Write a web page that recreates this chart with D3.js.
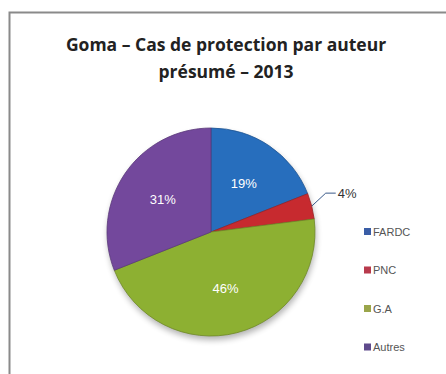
<!DOCTYPE html>
<html>
<head>
<meta charset="utf-8">
<script src="https://cdn.jsdelivr.net/npm/d3@7"></script>
<style>
  html, body { margin: 0; padding: 0; background: #fff; }
  svg { display: block; }
</style>
</head>
<body>
<svg id="chart" width="446" height="374"></svg>
<script>
// Chart data
const categories = ["FARDC", "PNC", "G.A", "Autres"];
const values = [19, 4, 46, 31];
const labels = ["19%", "4%", "46%", "31%"];
const colors = ["#2f84e2", "#ee3238", "#a8d23c", "#8a56bb"];
const legendColors = ["#3a5da6", "#b83a4c", "#9aa54a", "#5f4a8c"];
const titleLines = ["Goma – Cas de protection par auteur", "présumé – 2013"];

const svg = d3.select("#chart");
const W = 446, H = 374;

// Frame
svg.append("rect").attr("x", 0).attr("y", 0).attr("width", W).attr("height", H).attr("fill", "#fff");
svg.append("path")
  .attr("d", `M9.5,${H} V12.5 H${W}`)
  .attr("fill", "none").attr("stroke", "#8a8a8a").attr("stroke-width", 2);

// Title
const title = svg.append("text")
  .attr("text-anchor", "middle")
  .attr("font-family", "'Open Sans', 'Liberation Sans', sans-serif")
  .attr("font-weight", 700)
  .attr("font-size", 17.5)
  .attr("fill", "#222");
titleLines.forEach((t, i) => {
  title.append("tspan").attr("x", 226).attr("y", 51 + i * 27).text(t);
});

// Pie
const cx = 211, cy = 232, r = 104;
const pie = d3.pie().sort(null).value(d => d)(values);
const arc = d3.arc().innerRadius(0).outerRadius(r);

const defs = svg.append("defs");
colors.forEach((c, i) => {
  const g = defs.append("radialGradient").attr("id", "grad" + i)
    .attr("gradientUnits", "userSpaceOnUse")
    .attr("cx", cx).attr("cy", cy).attr("r", r);
  g.append("stop").attr("offset", "0%").attr("stop-color", c);
  g.append("stop").attr("offset", "82%").attr("stop-color", c);
  g.append("stop").attr("offset", "94%").attr("stop-color", d3.color(c).brighter(0.25));
  g.append("stop").attr("offset", "100%").attr("stop-color", d3.color(c).darker(0.5));
});
const shadow = defs.append("filter").attr("id", "shadow").attr("x", "-20%").attr("y", "-20%").attr("width", "140%").attr("height", "140%");
shadow.append("feGaussianBlur").attr("stdDeviation", 3);

svg.append("circle").attr("cx", cx + 1).attr("cy", cy + 4).attr("r", r)
  .attr("fill", "#000").attr("opacity", 0.3).attr("filter", "url(#shadow)");

const g = svg.append("g").attr("transform", `translate(${cx},${cy})`);
g.selectAll("path.slice").data(pie).join("path")
  .attr("class", "slice")
  .attr("d", arc)
  .attr("fill", (d, i) => `url(#grad${i})`)
  .attr("stroke", (d, i) => d3.color(colors[i]).darker(1.2))
  .attr("stroke-width", 0.8);

// Inside labels
const labelArc = d3.arc().innerRadius(r * 0.56).outerRadius(r * 0.56);
g.selectAll("text.in").data(pie.filter((d, i) => i !== 1)).join("text")
  .attr("class", "in")
  .attr("transform", d => {
    const [x, y] = labelArc.centroid(d);
    return `translate(${x},${y})`;
  })
  .attr("text-anchor", "middle")
  .attr("dy", "0.35em")
  .attr("font-family", "'Liberation Sans', sans-serif")
  .attr("font-size", 13)
  .attr("fill", "#fff")
  .text(d => labels[d.index]);

// Outside label with leader line for the small slice
const small = pie[1];
const mid = (small.startAngle + small.endAngle) / 2;
const p0 = [Math.sin(mid) * r, -Math.cos(mid) * r];
const p1 = [p0[0] + 14, p0[1] - 13];
const p2 = [p1[0] + 10, p1[1]];
g.append("polyline")
  .attr("points", [p0, p1, p2].map(p => p.join(",")).join(" "))
  .attr("fill", "none").attr("stroke", "#3a5a8a").attr("stroke-width", 1);
g.append("text")
  .attr("x", p2[0] + 2).attr("y", p2[1])
  .attr("dy", "0.35em")
  .attr("font-family", "'Liberation Sans', sans-serif")
  .attr("font-size", 13)
  .attr("fill", "#333")
  .text(labels[1]);

// Legend
const legend = svg.append("g").attr("transform", "translate(364,232)");
const item = legend.selectAll("g").data(categories).join("g")
  .attr("transform", (d, i) => `translate(0,${i * 38.5})`);
item.append("rect").attr("x", 0).attr("y", -4).attr("width", 7).attr("height", 7)
  .attr("fill", (d, i) => legendColors[i]);
item.append("text").attr("x", 9).attr("y", 0).attr("dy", "0.35em")
  .attr("font-family", "'Liberation Sans', sans-serif")
  .attr("font-size", 11)
  .attr("fill", "#555")
  .text(d => d);
</script>
</body>
</html>
